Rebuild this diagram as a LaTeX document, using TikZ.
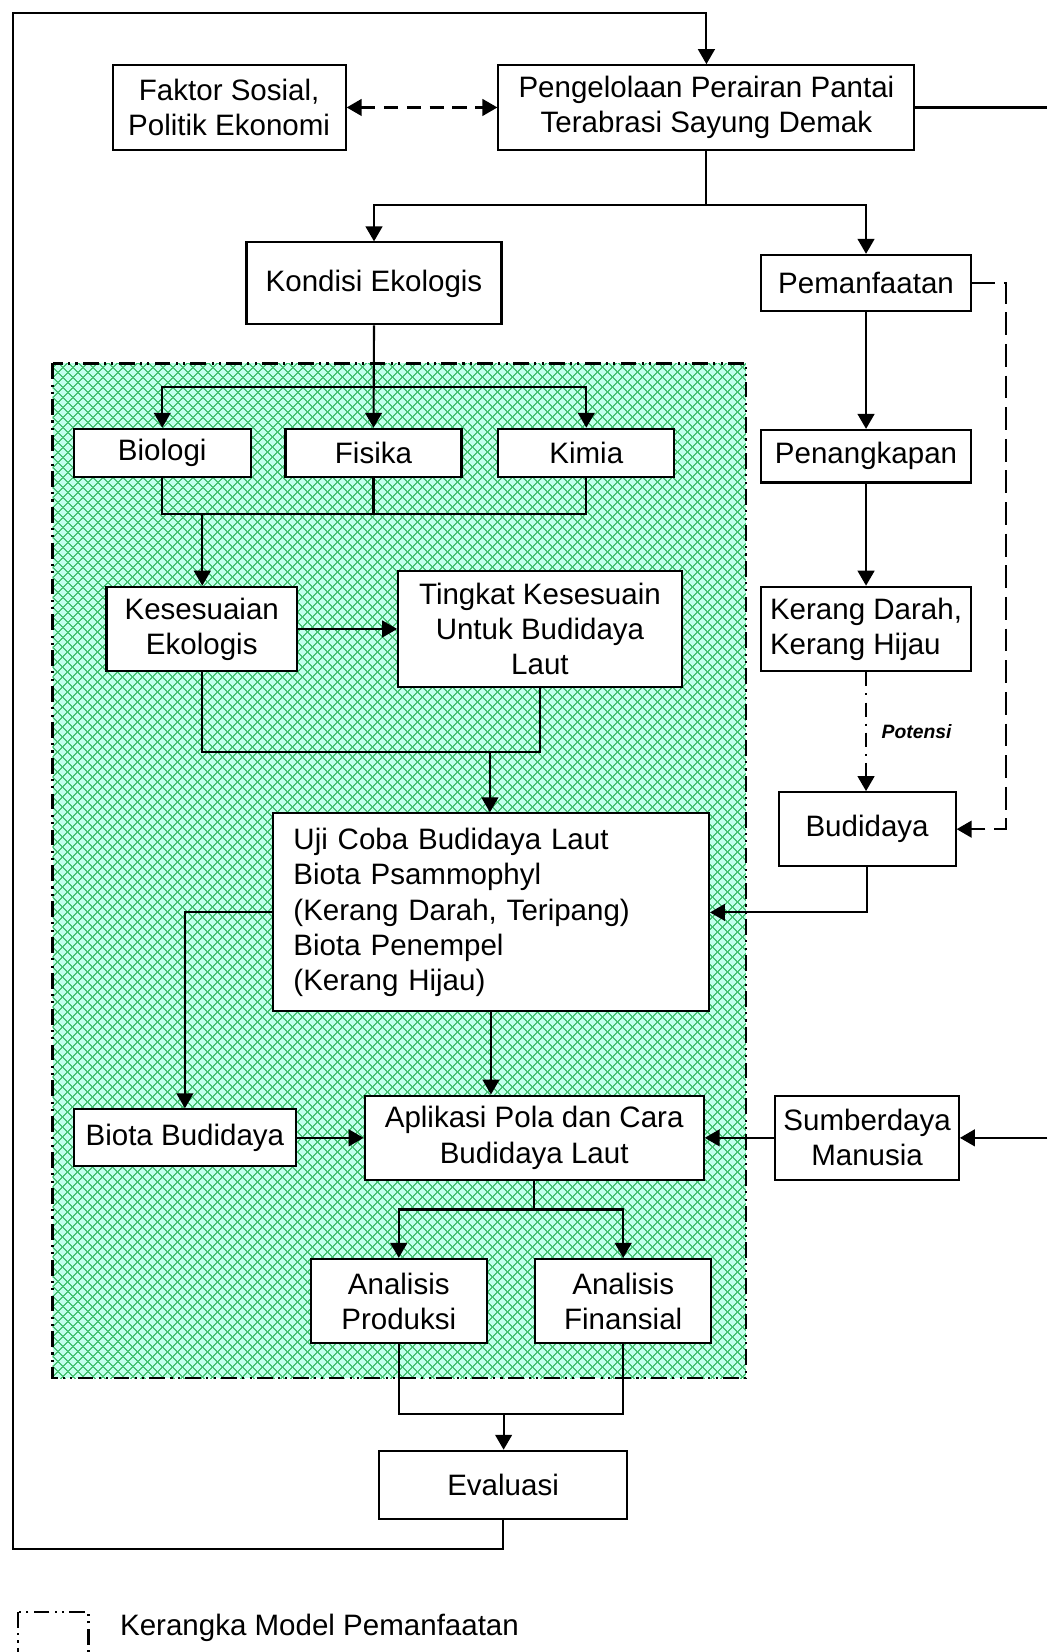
\documentclass[tikz,border=0pt]{standalone}
\usepackage{fontspec}
\setmainfont{Liberation Sans}
\usetikzlibrary{arrows.meta, patterns.meta}

\definecolor{mintbg}{RGB}{195,255,236}
\definecolor{hatchgreen}{RGB}{70,195,115}

\begin{document}
\begin{tikzpicture}[x = 0.021066cm, y = -0.021066cm, line width = 1.2pt,
                        box/.style = {draw, fill = white, align = center, inner sep = 2pt,
                                      font = \fontsize{16.8}{20}\selectfont},
                        arr/.style = {-{Triangle[length = 8.5pt, width = 9.5pt]}},
                        twoway/.style = {{Triangle[length = 8.5pt, width = 9.5pt]}-{Triangle[length = 8.5pt, width = 9.5pt]}},
                        loosedash/.style = {dash pattern = on 13pt off 5pt},
                        shortdash/.style = {dash pattern = on 8pt off 5pt},
                        dotdash/.style = {dash pattern = on 8pt off 4pt on 1.2pt off 4pt},
                        frame/.style = {line width = 1.6pt,
                                        dash pattern = on 9pt off 3pt on 1.2pt off 3pt on 1.2pt off 3pt}]
      \useasboundingbox (0, 0) rectangle (994, 1568);
      % hatched area
      \fill [mintbg] (50, 345) rectangle (708, 1308);
      \fill [pattern = {Lines[angle = 45, distance = 4pt, line width = 0.75pt]}, pattern color = hatchgreen] (50, 345) rectangle (708, 1308);
      \fill [pattern = {Lines[angle = -45, distance = 4pt, line width = 0.75pt]}, pattern color = hatchgreen] (50, 345) rectangle (708, 1308);
      \draw [frame] (50, 345) rectangle (708, 1308);

      \node [box, minimum width = 4.66cm, minimum height = 1.69cm] (faktor) at (217.5, 102) {Faktor Sosial,\\Politik Ekonomi};
      \node [box, minimum width = 8.32cm, minimum height = 1.69cm] (kelola) at (670.5, 102) {Pengelolaan Perairan Pantai\\Terabrasi Sayung Demak};
      \node [box, minimum width = 5.10cm, minimum height = 1.64cm] (kondisi) at (355, 269) {Kondisi Ekologis};
      \node [box, minimum width = 4.21cm, minimum height = 1.12cm] (manfaat) at (822, 268.5) {Pemanfaatan};
      \node [box, minimum width = 3.54cm, minimum height = 0.97cm] (biologi) at (154, 430) {Biologi};
      \node [box, minimum width = 3.52cm, minimum height = 0.97cm] (fisika) at (354.5, 430) {Fisika};
      \node [box, minimum width = 3.52cm, minimum height = 0.97cm] (kimia) at (556.5, 430) {Kimia};
      \node [box, minimum width = 3.81cm, minimum height = 1.69cm] (sesuai) at (191.5, 597) {Kesesuaian\\Ekologis};
      \node [box, minimum width = 5.67cm, minimum height = 2.32cm] (tingkat) at (512.5, 597) {Tingkat Kesesuain\\Untuk Budidaya\\Laut};
      \node [box, align = left, text width = 7.9cm, inner xsep = 0.38cm, minimum width = 8.72cm, minimum height = 3.96cm] (ujicoba) at (466, 866)
            {Uji Coba Budidaya Laut\\Biota Psammophyl\\(Kerang Darah, Teripang)\\Biota Penempel\\(Kerang Hijau)};
      \node [box, minimum width = 4.21cm, minimum height = 1.05cm] (tangkap) at (822, 433) {Penangkapan};
      \node [box, align = left, minimum width = 4.21cm, minimum height = 1.69cm] (kerang) at (822, 597) {Kerang Darah,\\Kerang Hijau};
      \node [box, minimum width = 3.54cm, minimum height = 1.48cm] (budidaya) at (823, 787) {Budidaya};
      \node [box, minimum width = 4.45cm, minimum height = 1.14cm] (biota) at (175.5, 1080) {Biota Budidaya};
      \node [box, minimum width = 6.78cm, minimum height = 1.69cm] (aplikasi) at (507, 1080) {Aplikasi Pola dan Cara\\Budidaya Laut};
      \node [box, minimum width = 3.67cm, minimum height = 1.69cm] (sdm) at (823, 1080) {Sumberdaya\\Manusia};
      \node [box, minimum width = 3.52cm, minimum height = 1.69cm] (produksi) at (378.5, 1235) {Analisis\\Produksi};
      \node [box, minimum width = 3.52cm, minimum height = 1.69cm] (finansial) at (591.5, 1235) {Analisis\\Finansial};
      \node [box, minimum width = 4.95cm, minimum height = 1.37cm] (evaluasi) at (477.5, 1409.5) {Evaluasi};

      \coordinate (looptl) at (12, 12);
      \coordinate (loopbl) at (12, 1470);
      \coordinate (edgetop) at (994, 102);
      \coordinate (edgesdm) at (994, 1080);
      \coordinate (split1) at (670.5, 195);
      \coordinate (split2) at (355, 367);
      \coordinate (join1) at (192, 488);
      \coordinate (join2) at (465, 714);
      \coordinate (split3) at (507, 1148);
      \coordinate (join3) at (478, 1342);
      \coordinate (dashright) at (955, 268.5);

      \draw [arr] (evaluasi.south) |- (loopbl) -- (looptl) -| (kelola.north);
      \draw (kelola.east) -- (edgetop);
      \draw [twoway, shortdash] (faktor.east) -- (kelola.west);
      \draw (kelola.south) -- (split1);
      \draw [arr] (split1) -| (kondisi.north);
      \draw [arr] (split1) -| (manfaat.north);
      \draw [arr] (kondisi.south) -- (fisika.north);
      \draw [arr] (split2) -| (biologi.north);
      \draw [arr] (split2) -| (kimia.north);
      \draw (biologi.south) |- (kimia.south |- join1) -- (kimia.south);
      \draw (fisika.south) -- (fisika.south |- join1);
      \draw [arr] (join1) -- (join1 |- sesuai.north);
      \draw [arr] (sesuai.east) -- (tingkat.west);
      \draw (sesuai.south) |- (tingkat.south |- join2) -- (tingkat.south);
      \draw [arr] (join2) -- (join2 |- ujicoba.north);
      \draw [arr] (ujicoba.west) -| (biota.north);
      \draw [arr] (ujicoba.south) -- (ujicoba.south |- aplikasi.north);
      \draw [arr] (biota.east) -- (aplikasi.west);
      \draw [arr] (sdm.west) -- (aplikasi.east);
      \draw [arr] (edgesdm) -- (sdm.east);
      \draw (aplikasi.south) -- (split3);
      \draw [arr] (split3) -| (produksi.north);
      \draw [arr] (split3) -| (finansial.north);
      \draw (produksi.south) |- (finansial.south |- join3) -- (finansial.south);
      \draw [arr] (join3) -- (join3 |- evaluasi.north);
      \draw [arr] (manfaat.south) -- (tangkap.north);
      \draw [arr] (tangkap.south) -- (kerang.north);
      \draw [arr, dotdash] (kerang.south) -- node [right, xshift = 5pt, font = \fontsize{11}{13}\selectfont\bfseries\itshape] (potensi) {Potensi} (kerang.south |- budidaya.north);
      \draw [arr, loosedash] (manfaat.east) -- (dashright) |- (budidaya.east);
      \draw [arr] (budidaya.south) |- (ujicoba.east);

      % legend
      \draw [frame, line width = 1.4pt] (17, 1530) rectangle (84, 1580);
      \node [anchor = west, inner sep = 0pt, font = \fontsize{16.8}{20}\selectfont] (legend) at (113, 1545) {Kerangka Model Pemanfaatan};
    \end{tikzpicture}
\end{document}
